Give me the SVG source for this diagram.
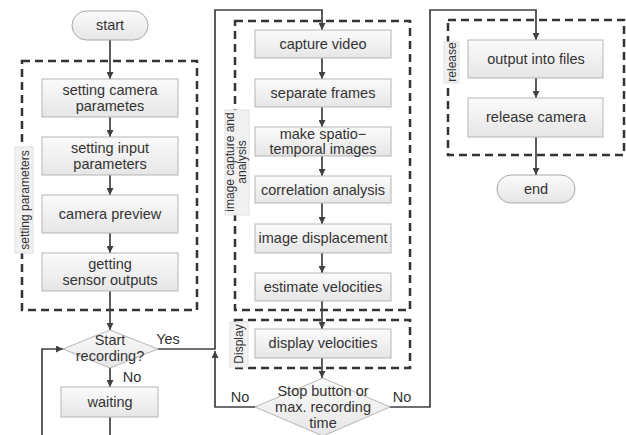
<svg xmlns="http://www.w3.org/2000/svg" width="626" height="435" viewBox="0 0 626 435">
<defs>
<linearGradient id="g" x1="0" y1="0" x2="0" y2="1">
<stop offset="0" stop-color="#fbfbfb"/>
<stop offset="1" stop-color="#e6e6e6"/>
</linearGradient>
<marker id="ar" viewBox="0 0 10 10" refX="10" refY="5" markerWidth="7" markerHeight="7" orient="auto" markerUnits="userSpaceOnUse">
<path d="M0,0 L10,5 L0,10 z" fill="#404040"/>
</marker>
</defs>
<style>
.box{fill:url(#g);stroke:#b5b5b5;stroke-width:1}
.term{fill:url(#g);stroke:#a8a8a8;stroke-width:1}
.dia{fill:url(#g);stroke:#b5b5b5;stroke-width:1}
.grp{fill:none;stroke:#333;stroke-width:2.5;stroke-dasharray:8,5}
.tab{fill:#f1f1f1;stroke:#e2e2e2;stroke-width:1}
.t{font-family:"Liberation Sans",Arial,sans-serif;font-size:14.5px;fill:#333;text-anchor:middle}
.tl{font-family:"Liberation Sans",Arial,sans-serif;font-size:12px;fill:#333;text-anchor:middle}
.c{fill:none;stroke:#404040;stroke-width:1.7}
.ca{fill:none;stroke:#404040;stroke-width:1.7;marker-end:url(#ar)}
</style>

<g id="groups">
<rect class="grp" x="22" y="61" width="175" height="249"/>
<rect class="grp" x="235" y="21" width="175" height="289"/>
<rect class="grp" x="235" y="320" width="175" height="48"/>
<rect class="grp" x="448" y="20" width="176" height="135"/>
</g>

<g id="tabs">
<rect class="tab" x="15" y="147" width="18" height="106"/>
<text class="tl" transform="translate(29,200) rotate(-90)">setting parameters</text>
<rect class="tab" x="225" y="110" width="24" height="105"/>
<text class="tl" transform="translate(234,162) rotate(-90)">image capture and</text>
<text class="tl" transform="translate(246,162) rotate(-90)">analysis</text>
<rect class="tab" x="230" y="322" width="18" height="45"/>
<text class="tl" transform="translate(243,344) rotate(-90)">Display</text>
<rect class="tab" x="444" y="42" width="15" height="41"/>
<text class="tl" transform="translate(456,62) rotate(-90)">release</text>
</g>

<g id="connectors">
<line class="ca" x1="110" y1="40" x2="110" y2="79"/>
<line class="ca" x1="110" y1="117" x2="110" y2="137"/>
<line class="ca" x1="110" y1="175" x2="110" y2="195"/>
<line class="ca" x1="110" y1="233" x2="110" y2="253"/>
<line class="ca" x1="110" y1="291" x2="110" y2="330"/>
<line class="ca" x1="110" y1="368" x2="110" y2="387"/>
<line class="c" x1="110" y1="417" x2="110" y2="436"/>
<polyline class="ca" points="42,436 42,349 63,349"/>
<polyline class="ca" points="158,349 215,349 215,10 322,10 322,30"/>
<line class="ca" x1="322" y1="58" x2="322" y2="79"/>
<line class="ca" x1="322" y1="107" x2="322" y2="127"/>
<line class="ca" x1="322" y1="156" x2="322" y2="176"/>
<line class="ca" x1="322" y1="203" x2="322" y2="224"/>
<line class="ca" x1="322" y1="253" x2="322" y2="273"/>
<line class="ca" x1="322" y1="301" x2="322" y2="329"/>
<line class="ca" x1="322" y1="358" x2="322" y2="378"/>
<polyline class="ca" points="255,407 215,407 215,351"/>
<polyline class="ca" points="390,407 430,407 430,10 536,10 536,40"/>
<line class="ca" x1="536" y1="78" x2="536" y2="98"/>
<line class="ca" x1="536" y1="137" x2="536" y2="175"/>
<text class="t" x="168" y="344">Yes</text>
<text class="t" x="132" y="382">No</text>
<text class="t" x="240" y="402">No</text>
<text class="t" x="402" y="402">No</text>
</g>

<g id="start">
<rect class="term" x="72" y="11" width="76" height="29" rx="14.5"/>
<text class="t" x="110" y="30">start</text>
</g>
<g id="set-camera">
<rect class="box" x="42" y="79" width="136" height="38"/>
<text class="t" x="110" y="95">setting camera</text>
<text class="t" x="110" y="111">parametes</text>
</g>
<g id="set-input">
<rect class="box" x="42" y="137" width="136" height="38"/>
<text class="t" x="110" y="153">setting input</text>
<text class="t" x="110" y="169">parameters</text>
</g>
<g id="preview">
<rect class="box" x="42" y="195" width="136" height="38"/>
<text class="t" x="110" y="219">camera preview</text>
</g>
<g id="sensor">
<rect class="box" x="42" y="253" width="136" height="38"/>
<text class="t" x="110" y="269">getting</text>
<text class="t" x="110" y="285">sensor outputs</text>
</g>
<g id="start-recording">
<polygon class="dia" points="110,330 158,349 110,368 63,349"/>
<text class="t" x="110" y="345">Start</text>
<text class="t" x="110" y="361">recording?</text>
</g>
<g id="waiting">
<rect class="box" x="61" y="387" width="97" height="30"/>
<text class="t" x="110" y="407">waiting</text>
</g>

<g id="capture">
<rect class="box" x="255" y="30" width="136" height="28"/>
<text class="t" x="323" y="49">capture video</text>
</g>
<g id="separate">
<rect class="box" x="255" y="79" width="136" height="28"/>
<text class="t" x="323" y="98">separate frames</text>
</g>
<g id="spatio">
<rect class="box" x="255" y="127" width="136" height="29"/>
<text class="t" x="323" y="139">make spatio−</text>
<text class="t" x="323" y="154">temporal images</text>
</g>
<g id="correlation">
<rect class="box" x="255" y="176" width="136" height="27"/>
<text class="t" x="323" y="195">correlation analysis</text>
</g>
<g id="displacement">
<rect class="box" x="255" y="224" width="136" height="29"/>
<text class="t" x="323" y="243">image displacement</text>
</g>
<g id="estimate">
<rect class="box" x="255" y="273" width="136" height="28"/>
<text class="t" x="323" y="292">estimate velocities</text>
</g>
<g id="display">
<rect class="box" x="255" y="329" width="136" height="29"/>
<text class="t" x="323" y="348">display velocities</text>
</g>
<g id="stop">
<polygon class="dia" points="323,378 390,407 323,436 255,407"/>
<text class="t" x="323" y="396">Stop button or</text>
<text class="t" x="323" y="412">max. recording</text>
<text class="t" x="323" y="428">time</text>
</g>

<g id="output">
<rect class="box" x="468" y="40" width="135" height="38"/>
<text class="t" x="536" y="64">output into files</text>
</g>
<g id="release">
<rect class="box" x="468" y="98" width="135" height="39"/>
<text class="t" x="536" y="122">release camera</text>
</g>
<g id="end">
<rect class="term" x="497" y="175" width="78" height="28" rx="14"/>
<text class="t" x="536" y="194">end</text>
</g>
</svg>
